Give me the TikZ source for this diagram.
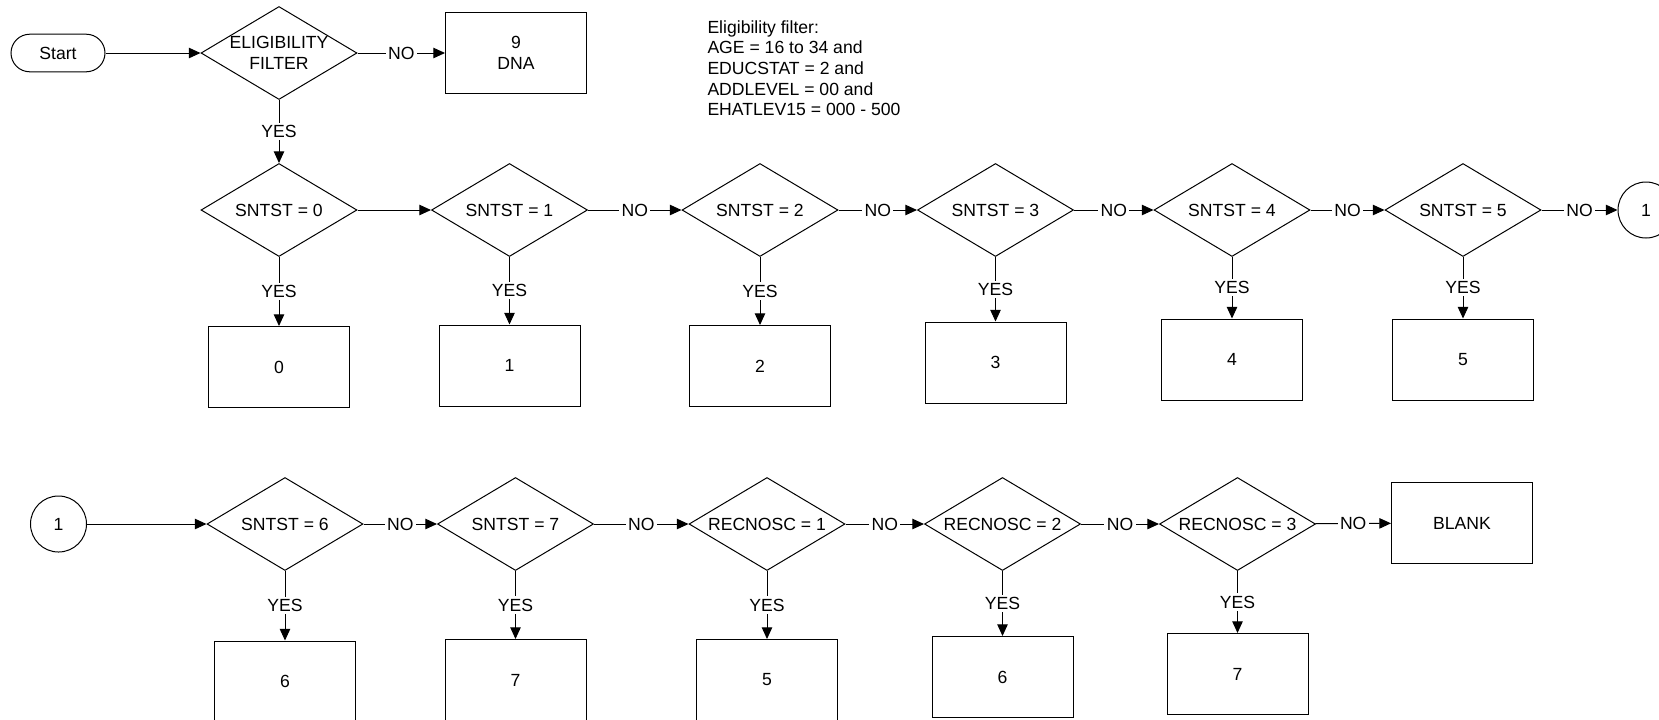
\documentclass[tikz,border=0pt]{standalone}
\usepackage{fontspec}
\setmainfont{Liberation Sans}
\usetikzlibrary{shapes.geometric,arrows.meta}

\begin{document}
\begin{tikzpicture}[
		x=0.5pt, y=-0.5pt,
		>={Triangle[length=5.8pt,width=5.2pt]},
		line width=0.5pt,
		font=\fontsize{8.8}{10.4}\selectfont,
		decision/.style={
			diamond, draw, aspect=1.7, inner sep=0pt,
			minimum width=78pt, minimum height=46.5pt, align=center
		},
		outcome/.style={
			rectangle, draw, inner sep=0pt,
			minimum width=70.5pt, minimum height=40.5pt, align=center
		},
		terminal/.style={
			rectangle, draw, rounded corners=9.4pt,
			minimum width=47pt, minimum height=18.8pt
		},
		connector/.style={circle, draw, inner sep=0pt, minimum size=28pt},
		branch/.style={fill=white, inner sep=1.2pt}
	]
	\useasboundingbox (0,0) rectangle (1659,719);

	\node[terminal] (start) at (58,53) {Start};
	\node[decision, inner sep=-4pt] (elig) at (279,53) {ELIGIBILITY\\FILTER};
	\node[outcome] (dna) at (516,53) {9\\DNA};
	\node[anchor=north west, inner sep=0pt, align=left, font=\fontsize{8.8}{10.3}\selectfont]
		(rule) at (707,20)
		{Eligibility filter:\\AGE = 16 to 34 and\\EDUCSTAT = 2 and\\ADDLEVEL = 00 and\\EHATLEV15 = 000 - 500};

	\node[decision] (sn0) at (279,210) {SNTST = 0};
	\node[decision] (sn1) at (509.5,210) {SNTST = 1};
	\node[decision] (sn2) at (760,210) {SNTST = 2};
	\node[decision] (sn3) at (995.5,210) {SNTST = 3};
	\node[decision] (sn4) at (1232,210) {SNTST = 4};
	\node[decision] (sn5) at (1463,210) {SNTST = 5};
	\node[connector] (goA) at (1646,210) {1};

	\node[outcome] (out0) at (279,367) {0};
	\node[outcome] (out1) at (509.5,365.5) {1};
	\node[outcome] (out2) at (760,366) {2};
	\node[outcome] (out3) at (995.5,362.5) {3};
	\node[outcome] (out4) at (1232,359.5) {4};
	\node[outcome] (out5) at (1463,359.5) {5};

	\node[connector] (goB) at (58.5,524) {1};
	\node[decision] (sn6) at (285,524) {SNTST = 6};
	\node[decision] (sn7) at (515.5,524) {SNTST = 7};
	\node[decision] (rec1) at (767,524) {RECNOSC = 1};
	\node[decision] (rec2) at (1002.5,524) {RECNOSC = 2};
	\node[decision] (rec3) at (1237.5,524) {RECNOSC = 3};
	\node[outcome] (blank) at (1462,523) {BLANK};

	\node[outcome] (out6) at (285,681.5) {6};
	\node[outcome] (out7) at (515.5,680) {7};
	\node[outcome] (out8) at (767,680) {5};
	\node[outcome] (out9) at (1002.5,677) {6};
	\node[outcome] (out10) at (1237.5,674) {7};

	\draw[->] (start) -- (elig);
	\draw[->] (elig) -- node[branch] {NO} (dna);
	\draw[->] (elig) -- node[branch] {YES} (sn0);

	\draw[->] (sn0) -- (sn1);
	\draw[->] (sn1) -- node[branch] {NO} (sn2);
	\draw[->] (sn2) -- node[branch] {NO} (sn3);
	\draw[->] (sn3) -- node[branch] {NO} (sn4);
	\draw[->] (sn4) -- node[branch] {NO} (sn5);
	\draw[->] (sn5) -- node[branch] {NO} (goA);

	\draw[->] (sn0) -- node[branch] {YES} (out0);
	\draw[->] (sn1) -- node[branch] {YES} (out1);
	\draw[->] (sn2) -- node[branch] {YES} (out2);
	\draw[->] (sn3) -- node[branch] {YES} (out3);
	\draw[->] (sn4) -- node[branch] {YES} (out4);
	\draw[->] (sn5) -- node[branch] {YES} (out5);

	\draw[->] (goB) -- (sn6);
	\draw[->] (sn6) -- node[branch] {NO} (sn7);
	\draw[->] (sn7) -- node[branch] {NO} (rec1);
	\draw[->] (rec1) -- node[branch] {NO} (rec2);
	\draw[->] (rec2) -- node[branch] {NO} (rec3);
	\draw[->] (rec3) -- node[branch] {NO} (blank);

	\draw[->] (sn6) -- node[branch] {YES} (out6);
	\draw[->] (sn7) -- node[branch] {YES} (out7);
	\draw[->] (rec1) -- node[branch] {YES} (out8);
	\draw[->] (rec2) -- node[branch] {YES} (out9);
	\draw[->] (rec3) -- node[branch] {YES} (out10);
\end{tikzpicture}
\end{document}
